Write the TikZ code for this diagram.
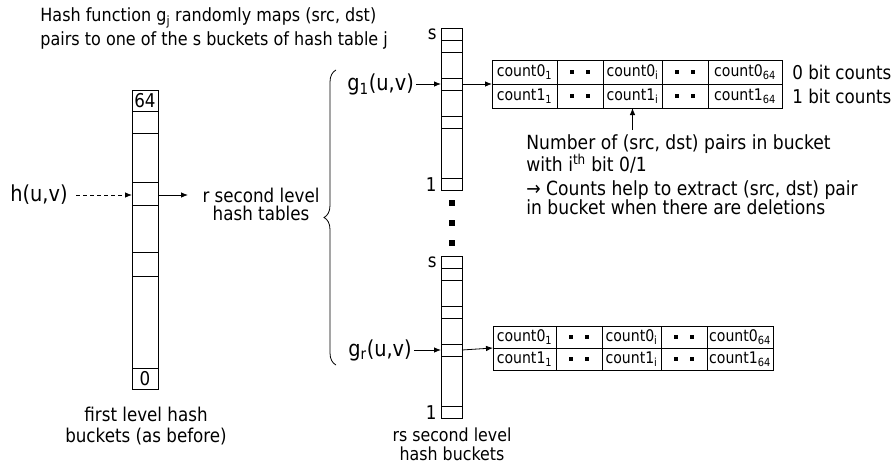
\documentclass[tikz,border=0pt]{standalone}
\usepackage{fontspec}
\setmainfont{DejaVu Sans}[FakeStretch=0.88]
\usetikzlibrary{arrows.meta,decorations.pathreplacing}

% one column of s buckets; #1 name prefix, #2 top edge
\newcommand\bucketcol[2]{%
  \draw (441,#2) rectangle (462,{#2+162});
  \foreach \d in {12,24,50,62,88,100,150} \draw (441,{#2+\d}) -- (462,{#2+\d});
  \node[txt,anchor=east] (#1s) at (437,{#2+6}) {s};
  \node[txt,anchor=east] (#1one) at (437,{#2+157}) {1};
}

% 2 x 5 table of bit counts; #1 name prefix, #2-#7 column edges, #8 top, #9 middle
\newcommand\bitcounts[9]{%
  \draw (#2,#8) rectangle (#7,{2*#9-#8});
  \draw (#2,#9) -- (#7,#9);
  \foreach \cx in {#3,#4,#5,#6} \draw (\cx,#8) -- (\cx,{2*#9-#8});
  \coordinate (#1in) at (#2,#9);
  \coordinate (#1up) at ({(#4+#5)/2},{2*#9-#8});
  \node[cnt] (#1a1)  at ({(#2+#3)/2},{(#8+#9)/2}) {count0\textsubscript{1}};
  \node[cnt] (#1ai)  at ({(#4+#5)/2},{(#8+#9)/2}) {count0\textsubscript{i}};
  \node[cnt] (#1a64) at ({(#6+#7)/2},{(#8+#9)/2}) {count0\textsubscript{64}};
  \node[cnt] (#1b1)  at ({(#2+#3)/2},{(3*#9-#8)/2}) {count1\textsubscript{1}};
  \node[cnt] (#1bi)  at ({(#4+#5)/2},{(3*#9-#8)/2}) {count1\textsubscript{i}};
  \node[cnt] (#1b64) at ({(#6+#7)/2},{(3*#9-#8)/2}) {count1\textsubscript{64}};
  \foreach \cx in {{(#3+#4)/2},{(#5+#6)/2}}
    \foreach \cy in {{(#8+#9)/2},{(3*#9-#8)/2}} {
      \fill ({\cx-8-2},{\cy-2}) rectangle ++(4,4);
      \fill ({\cx+8-2},{\cy-2}) rectangle ++(4,4);
    }
}

\begin{document}
\begin{tikzpicture}[x=1pt,y=-1pt,
  line width=0.8pt,
  txt/.style={inner sep=0pt,font=\fontsize{19}{22}\selectfont},
  big/.style={inner sep=0pt,font=\fontsize{22}{26}\selectfont},
  cnt/.style={inner sep=0pt,font=\fontsize{16}{18}\selectfont},
  arr/.style={-{Latex[length=7pt,width=5.5pt]}}]
\useasboundingbox (0,0) rectangle (895,466);

% heading
\node[txt,anchor=west,font=\fontsize{18.2}{21}\selectfont] (title1) at (40,18) {Hash function g\textsubscript{j} randomly maps (src, dst)};
\node[txt,anchor=west,font=\fontsize{18.2}{21}\selectfont] (title2) at (40,40) {pairs to one of the s buckets of hash table j};

% first level hash buckets
\draw (132,90) rectangle (158,389);
\foreach \y in {111,133,182,205,252,276,368} \draw (132,\y) -- (158,\y);
\node[txt] (top64) at (145,100.5) {64};
\node[txt] (bot0) at (145,378.5) {0};
\coordinate (hin) at (132,195);
\coordinate (hout) at (158,195);
\coordinate (rin) at (188,195);
\node[big,anchor=west] (h) at (10,195) {h(u,v)};
\draw[arr,dash pattern=on 4pt off 3pt] ([xshift=8pt]h.east) -- (hin);
\draw[arr] (hout) -- (rin);
\node[txt,align=center,font=\fontsize{19}{18}\selectfont] (rsec) at (261,204) {r second level\\hash tables};
\node[txt,align=center,font=\fontsize{19}{21}\selectfont] (flab) at (146,426.5) {first level hash\\buckets (as before)};

% the r second level tables
\draw[decorate,decoration={brace,amplitude=12pt}] (336,365) -- (336,70);
\bucketcol{ta}{28}
\bucketcol{tb}{256}
\coordinate (tain) at (441,84);
\coordinate (taout) at (462,84);
\coordinate (tbin) at (441,350);
\coordinate (tbout) at (462,350);
\foreach \y in {203,223,243} \fill (449.25,{\y-2.75}) rectangle ++(5.5,5.5);
\node[big,anchor=west] (g1) at (347,84) {g\textsubscript{1}(u,v)};
\node[big,anchor=west] (gr) at (348,350) {g\textsubscript{r}(u,v)};
\draw[arr] ([xshift=2pt]g1.east |- tain) -- (tain);
\draw[arr] ([xshift=2pt]gr.east |- tbin) -- (tbin);
\node[txt,align=center,font=\fontsize{18}{19}\selectfont] (slab) at (452,444) {rs second level\\hash buckets};

% bit counts kept in a bucket
\bitcounts{ca}{492}{557}{603}{662}{708}{782}{60}{84}
\bitcounts{cb}{493}{556}{602}{661}{707}{773}{326}{348}
\draw[arr] (taout) -- (cain);
\draw[arr] (tbout) -- (cbin);
\node[txt,anchor=west] (zero) at (792,72) {0 bit counts};
\node[txt,anchor=west] (one) at (792,96) {1 bit counts};

% notes
\node[txt,anchor=west,align=left,font=\fontsize{19.5}{18}\selectfont] (note1) at (526,154) {Number of (src, dst) pairs in bucket\\with i\textsuperscript{th} bit 0/1};
\node[txt,anchor=west,align=left,font=\fontsize{19.5}{19}\selectfont] (note2) at (526,197.5) {→ Counts help to extract (src, dst) pair\\in bucket when there are deletions};
\draw[arr] ([yshift=4pt]caup |- note1.north) -- (caup);
\end{tikzpicture}
\end{document}
